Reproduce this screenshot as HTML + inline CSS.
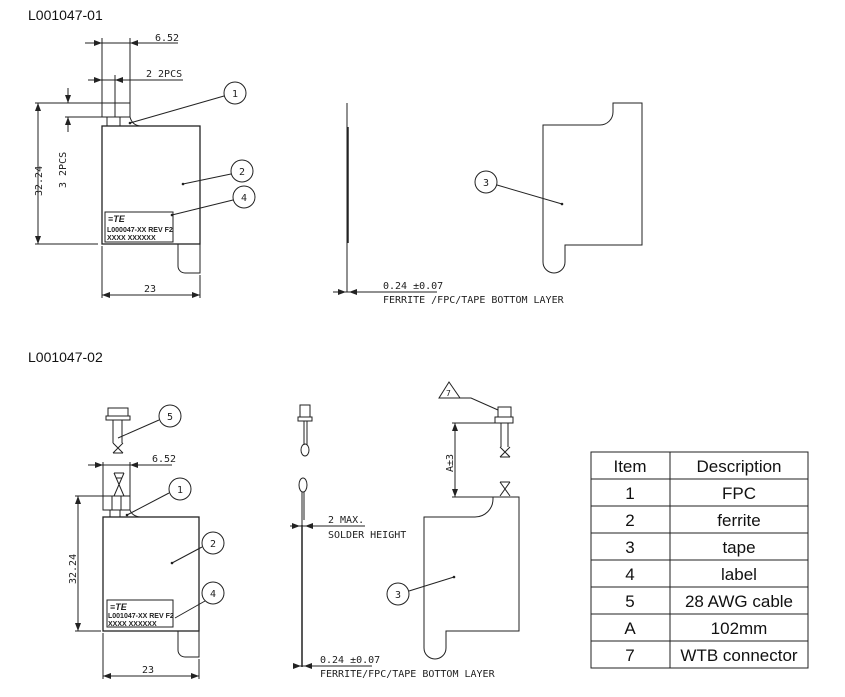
<!DOCTYPE html>
<html><head><meta charset="utf-8"><style>
html,body{margin:0;padding:0;background:#fff;width:845px;height:697px;overflow:hidden}
svg{display:block}
.t{font-family:"DejaVu Sans Mono","Liberation Mono",monospace;font-size:10px;fill:#222}
.h{font-family:"Liberation Sans",sans-serif;font-size:14px;fill:#111}
.b{font-family:"Liberation Sans",sans-serif;font-size:10px;fill:#222}
.tb{font-family:"Liberation Sans",sans-serif;font-size:17px;fill:#111}
</style></head><body>
<svg width="845" height="697" viewBox="0 0 845 697" xmlns="http://www.w3.org/2000/svg">
<defs><marker id="a" markerWidth="8" markerHeight="6" refX="8" refY="3" orient="auto-start-reverse" markerUnits="userSpaceOnUse"><path d="M0,0 L8,3 L0,6 z" fill="#222"/></marker></defs>
<text class="h" x="28" y="20">L001047-01</text>
<text class="h" x="28" y="362">L001047-02</text>
<g stroke="#222" fill="none" stroke-width="1">
<!-- Top-left drawing -->
<rect x="102" y="126" width="98" height="118" stroke-width="1.3"/>
<path d="M178,244 V266 a7,7 0 0 0 7,7 H200 V244" />
<rect x="102" y="103" width="28" height="14"/>
<line x1="115" y1="103" x2="115" y2="117"/><line x1="107" y1="117" x2="107" y2="126"/><line x1="120" y1="117" x2="120" y2="126"/>
<path d="M130,117 q2,8 10,9"/>
<rect x="105" y="212" width="68" height="30"/>
<!-- dims -->
<line x1="85" y1="43" x2="178" y2="43"/><line x1="95" y1="43" x2="102" y2="43" marker-end="url(#a)"/><line x1="138" y1="43" x2="130" y2="43" marker-end="url(#a)"/>
<line x1="102" y1="38" x2="102" y2="103"/><line x1="130" y1="38" x2="130" y2="103"/>
<line x1="88" y1="80" x2="183" y2="80"/><line x1="94" y1="80" x2="102" y2="80" marker-end="url(#a)"/><line x1="123" y1="80" x2="115" y2="80" marker-end="url(#a)"/>
<line x1="115" y1="75" x2="115" y2="103"/>
<line x1="38" y1="103" x2="38" y2="244" marker-start="url(#a)" marker-end="url(#a)"/>
<line x1="35" y1="103" x2="102" y2="103"/><line x1="35" y1="244" x2="98" y2="244"/>
<line x1="68" y1="88" x2="68" y2="103" marker-end="url(#a)"/><line x1="68" y1="132" x2="68" y2="117" marker-end="url(#a)"/>
<line x1="65" y1="117" x2="102" y2="117"/>
<line x1="102" y1="246" x2="102" y2="298"/><line x1="200" y1="275" x2="200" y2="298"/>
<line x1="102" y1="295" x2="200" y2="295" marker-start="url(#a)" marker-end="url(#a)"/>
<!-- balloons -->
<circle cx="235" cy="93" r="11"/><line x1="224" y1="96" x2="130" y2="123"/>
<circle cx="242" cy="171" r="11"/><line x1="231" y1="174" x2="183" y2="184"/>
<circle cx="244" cy="197" r="11"/><line x1="233" y1="200" x2="172" y2="215"/>
<!-- Top-middle side view -->
<line x1="347" y1="103" x2="347" y2="292"/><line x1="348" y1="127" x2="348" y2="243" stroke-width="1.5"/>
<line x1="333" y1="292" x2="437" y2="292"/><line x1="338" y1="292" x2="346" y2="292" marker-end="url(#a)"/><line x1="356" y1="292" x2="349" y2="292" marker-end="url(#a)"/>
<!-- Top-right tape -->
<path d="M613,103 H642 V245 H565 V262 a11,11 0 0 1 -22,0 V125 H600 a13,13 0 0 0 13,-13 Z"/>
<circle cx="486" cy="182" r="11"/><line x1="497" y1="185" x2="562" y2="204"/>
<!-- Bottom-left -->
<rect x="103" y="517" width="96" height="114" stroke-width="1.3"/>
<path d="M178,631 V650 a7,7 0 0 0 7,7 H199 V631"/>
<rect x="103" y="496" width="27" height="14"/>
<line x1="112" y1="496" x2="112" y2="510"/><line x1="121" y1="496" x2="121" y2="510"/>
<line x1="110" y1="510" x2="110" y2="517"/><line x1="120" y1="510" x2="120" y2="517"/>
<path d="M130,510 q2,6 10,7"/>
<path d="M114,473 L124,496 M124,473 L114,496 M114,473 h10 M116,478 h6"/>
<rect x="108" y="408" width="20" height="8"/><rect x="106" y="416" width="24" height="4"/>
<line x1="113" y1="420" x2="113" y2="443"/><line x1="122" y1="420" x2="122" y2="443"/>
<path d="M113,443 L123,453 M123,443 L113,453 M113,453 h10"/>
<rect x="107" y="600" width="66" height="27"/>
<line x1="88" y1="465" x2="172" y2="465"/><line x1="95" y1="465" x2="103" y2="465" marker-end="url(#a)"/><line x1="138" y1="465" x2="130" y2="465" marker-end="url(#a)"/>
<line x1="103" y1="462" x2="103" y2="496"/><line x1="130" y1="462" x2="130" y2="496"/>
<line x1="78" y1="496" x2="78" y2="631" marker-start="url(#a)" marker-end="url(#a)"/>
<line x1="75" y1="496" x2="103" y2="496"/><line x1="75" y1="631" x2="101" y2="631"/>
<line x1="103" y1="633" x2="103" y2="679"/><line x1="199" y1="659" x2="199" y2="679"/>
<line x1="103" y1="676" x2="199" y2="676" marker-start="url(#a)" marker-end="url(#a)"/>
<circle cx="170" cy="416" r="11"/><line x1="159" y1="420" x2="118" y2="438"/>
<circle cx="180" cy="489" r="11"/><line x1="169" y1="493" x2="127" y2="515"/>
<circle cx="213" cy="543" r="11"/><line x1="202" y1="547" x2="172" y2="563"/>
<circle cx="213" cy="593" r="11"/><line x1="205" y1="601" x2="175" y2="618"/>
<!-- Bottom middle -->
<rect x="300" y="405" width="10" height="12"/><rect x="298" y="417" width="14" height="4"/>
<line x1="304" y1="421" x2="304" y2="445"/><line x1="307" y1="421" x2="307" y2="445"/>
<ellipse cx="305" cy="450" rx="4" ry="6"/>
<ellipse cx="303" cy="485" rx="4" ry="7"/>
<line x1="302" y1="492" x2="302" y2="525"/><line x1="304" y1="492" x2="304" y2="520"/>
<line x1="302" y1="525" x2="302" y2="667" stroke-width="1.5"/>
<line x1="290" y1="526" x2="365" y2="526"/><line x1="292" y1="526" x2="300" y2="526" marker-end="url(#a)"/><line x1="314" y1="526" x2="305" y2="526" marker-end="url(#a)"/>
<line x1="293" y1="666" x2="372" y2="666"/><line x1="293" y1="666" x2="301" y2="666" marker-end="url(#a)"/><line x1="313" y1="666" x2="304" y2="666" marker-end="url(#a)"/>
<!-- Bottom right -->
<path d="M439,398 L449,382 L460,398 Z"/><path d="M460,398 H471 L498,410"/>
<rect x="498" y="407" width="13" height="10"/><rect x="495" y="417" width="18" height="6"/>
<line x1="501" y1="423" x2="501" y2="447"/><line x1="508" y1="423" x2="508" y2="447"/>
<path d="M500,447 L510,457 M510,447 L500,457 M500,457 h10"/>
<path d="M500,482 L510,496 M510,482 L500,496 M500,482 h10"/>
<line x1="455" y1="423" x2="455" y2="497" marker-start="url(#a)" marker-end="url(#a)"/>
<line x1="452" y1="423" x2="496" y2="423"/><line x1="452" y1="497" x2="493" y2="497"/>
<path d="M493,497 H519 V631 H446 V648 a11,11 0 0 1 -22,0 V517 H475 a18,18 0 0 0 18,-18 Z"/>
<circle cx="398" cy="594" r="11"/><line x1="409" y1="591" x2="454" y2="577"/>
<!-- table -->
<rect x="591" y="452" width="217" height="216"/>
<line x1="670" y1="452" x2="670" y2="668"/>
<line x1="591" y1="479" x2="808" y2="479"/><line x1="591" y1="506" x2="808" y2="506"/><line x1="591" y1="533" x2="808" y2="533"/><line x1="591" y1="560" x2="808" y2="560"/><line x1="591" y1="587" x2="808" y2="587"/><line x1="591" y1="614" x2="808" y2="614"/><line x1="591" y1="641" x2="808" y2="641"/>
</g>
<g fill="#222">
<circle cx="183" cy="184" r="1.3"/><circle cx="172" cy="215" r="1.3"/><circle cx="130" cy="123" r="1.3"/>
<circle cx="562" cy="204" r="1.3"/><circle cx="172" cy="563" r="1.3"/><circle cx="127" cy="515" r="1.3"/><circle cx="454" cy="577" r="1.3"/>
</g>
<g class="t">
<text x="155" y="41">6.52</text><text x="146" y="77">2 2PCS</text><text x="144" y="292">23</text>
<text transform="translate(42,196) rotate(-90)">32.24</text>
<text transform="translate(66,188) rotate(-90)">3 2PCS</text>
<text x="383" y="289">0.24 ±0.07</text><text x="383" y="303">FERRITE /FPC/TAPE BOTTOM LAYER</text>
<text x="152" y="462">6.52</text><text x="142" y="673">23</text>
<text transform="translate(76,584) rotate(-90)">32.24</text>
<text x="328" y="523">2 MAX.</text><text x="328" y="538">SOLDER HEIGHT</text>
<text x="320" y="663">0.24 ±0.07</text><text x="320" y="677">FERRITE/FPC/TAPE BOTTOM LAYER</text>
<text transform="translate(453,472) rotate(-90)">A±3</text>
<text x="232" y="97">1</text><text x="239" y="175">2</text><text x="241" y="201">4</text><text x="483" y="186">3</text>
<text x="167" y="420">5</text><text x="177" y="493">1</text><text x="210" y="547">2</text><text x="210" y="597">4</text><text x="395" y="598">3</text>
<text x="446" y="396" style="font-size:8px">7</text>
</g>
<g class="b" style="font-size:7px;font-weight:bold">
<text x="108" y="222" style="font-size:9px;font-style:italic">≡TE</text><text x="107" y="232">L000047-XX REV F2</text><text x="107" y="240">XXXX XXXXXX</text>
<text x="110" y="610" style="font-size:9px;font-style:italic">≡TE</text><text x="108" y="618">L001047-XX REV F2</text><text x="108" y="626">XXXX XXXXXX</text>
</g>
<g class="tb" text-anchor="middle">
<text x="630" y="472">Item</text><text x="739" y="472">Description</text>
<text x="630" y="499">1</text><text x="739" y="499">FPC</text>
<text x="630" y="526">2</text><text x="739" y="526">ferrite</text>
<text x="630" y="553">3</text><text x="739" y="553">tape</text>
<text x="630" y="580">4</text><text x="739" y="580">label</text>
<text x="630" y="607">5</text><text x="739" y="607">28 AWG cable</text>
<text x="630" y="634">A</text><text x="739" y="634">102mm</text>
<text x="630" y="661">7</text><text x="739" y="661">WTB connector</text>
</g>
</svg>
</body></html>
